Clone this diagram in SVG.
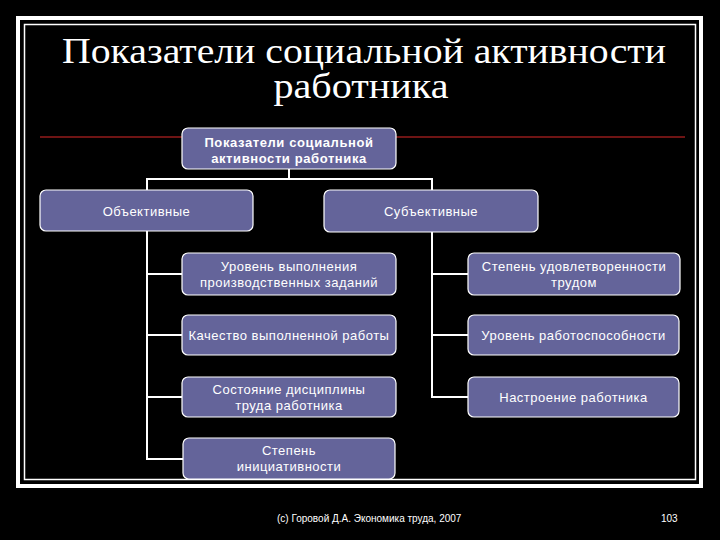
<svg xmlns="http://www.w3.org/2000/svg" width="720" height="540" viewBox="0 0 720 540">
<style>
.box{fill:#64649a;stroke:#ffffff;stroke-width:1.2}
.t{font-family:"Liberation Sans",Arial,sans-serif;font-size:13px;letter-spacing:0.5px;fill:#ffffff;text-anchor:middle}
.b{font-weight:bold;letter-spacing:0.6px}
.c{stroke:#ffffff;stroke-width:2;fill:none}
.title{font-family:"Liberation Serif","Times New Roman",serif;font-size:36px;fill:#ffffff;text-anchor:middle}
.foot{font-family:"Liberation Sans",Arial,sans-serif;font-size:10px;fill:#ffffff}
</style>
<rect width="720" height="540" fill="#000000"/>
<rect x="18" y="18" width="683" height="468" fill="none" stroke="#ffffff" stroke-width="4"/>
<rect x="24.5" y="24.5" width="671" height="455" fill="none" stroke="#ffffff" stroke-width="1.5"/>
<text class="title" x="364" y="63" textLength="604" lengthAdjust="spacingAndGlyphs">Показатели социальной активности</text>
<text class="title" x="361" y="98" textLength="175" lengthAdjust="spacingAndGlyphs">работника</text>
<line x1="40" y1="137" x2="685" y2="137" stroke="#6e1414" stroke-width="2"/>
<g id="connectors">
<polyline class="c" points="289,169 289,179"/>
<polyline class="c" points="147,190 147,179 432,179 432,190"/>
<polyline class="c" points="147,231 147,459 183,459"/>
<line class="c" x1="147" y1="274" x2="183" y2="274"/>
<line class="c" x1="147" y1="335" x2="183" y2="335"/>
<line class="c" x1="147" y1="397" x2="183" y2="397"/>
<polyline class="c" points="432,232 432,397 468,397"/>
<line class="c" x1="432" y1="274" x2="468" y2="274"/>
<line class="c" x1="432" y1="335" x2="468" y2="335"/>
</g>
<g id="root">
<rect class="box" x="182" y="128" width="214" height="41" rx="6"/>
<text class="t b" x="289" y="147">Показатели социальной</text>
<text class="t b" x="289" y="163">активности работника</text>
</g>
<g id="objective">
<rect class="box" x="40" y="190" width="213" height="41" rx="6"/>
<text class="t" x="146.5" y="215.5">Объективные</text>
</g>
<g id="subjective">
<rect class="box" x="324" y="190" width="214" height="42" rx="6"/>
<text class="t" x="431" y="216">Субъективные</text>
</g>
<g id="o1">
<rect class="box" x="182" y="253" width="214" height="42" rx="6"/>
<text class="t" x="289" y="270.5">Уровень выполнения</text>
<text class="t" x="289" y="286.5">производственных заданий</text>
</g>
<g id="o2">
<rect class="box" x="182" y="315" width="214" height="40" rx="6"/>
<text class="t" x="289" y="339.5">Качество выполненной работы</text>
</g>
<g id="o3">
<rect class="box" x="182" y="377" width="214" height="40" rx="6"/>
<text class="t" x="289" y="393.5">Состояние дисциплины</text>
<text class="t" x="289" y="409.5">труда работника</text>
</g>
<g id="o4">
<rect class="box" x="183" y="438" width="212" height="41" rx="6"/>
<text class="t" x="289" y="455">Степень</text>
<text class="t" x="289" y="471">инициативности</text>
</g>
<g id="s1">
<rect class="box" x="468" y="253" width="212" height="42" rx="6"/>
<text class="t" x="574" y="270.5">Степень удовлетворенности</text>
<text class="t" x="574" y="286.5">трудом</text>
</g>
<g id="s2">
<rect class="box" x="468" y="315" width="211" height="40" rx="6"/>
<text class="t" x="573.5" y="339.5">Уровень работоспособности</text>
</g>
<g id="s3">
<rect class="box" x="468" y="377" width="211" height="40" rx="6"/>
<text class="t" x="573.5" y="401.5">Настроение работника</text>
</g>
<text class="foot" x="277" y="521.5">(c) Горовой Д.А. Экономика труда, 2007</text>
<text class="foot" x="661" y="521.5">103</text>
</svg>
